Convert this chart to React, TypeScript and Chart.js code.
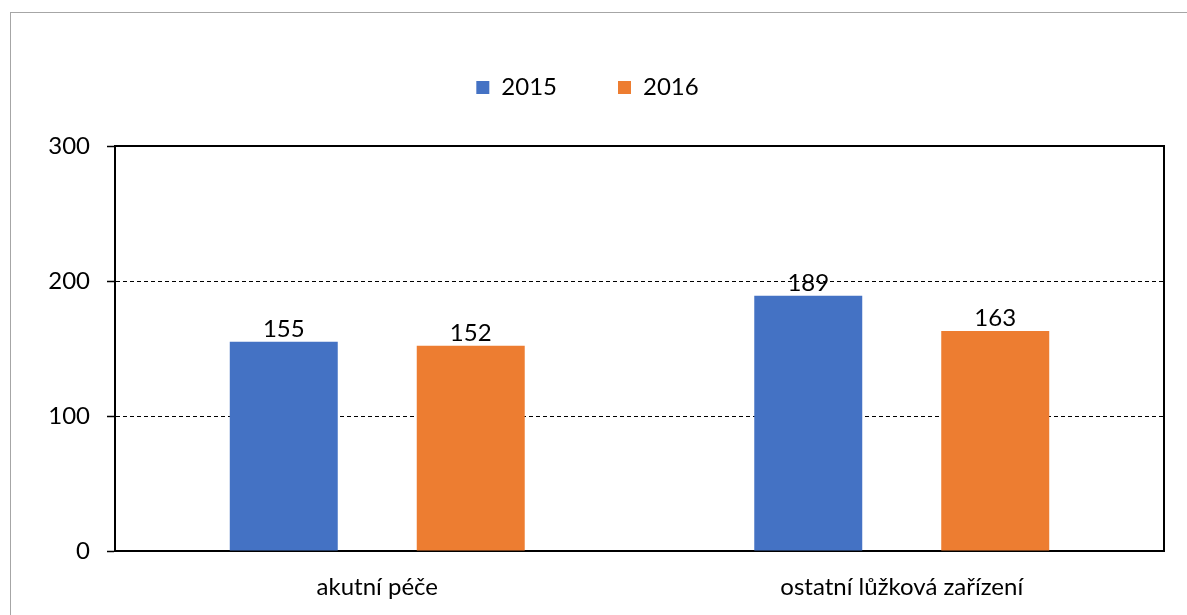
import React, { useEffect, useRef } from 'react';
import { Chart, registerables } from 'chart.js';

Chart.register(...registerables);

const categories = ['akutní péče', 'ostatní lůžková zařízení'];
const seriesLabels = ['2015', '2016'];
const values2015 = [155, 189];
const values2016 = [152, 163];
const yTickValues = [0, 100, 200, 300];

const COLORS = ['#4472C4', '#ED7D31'];
const FONT = 'Lato';
const W = 1187;
const H = 615;

const frameAndLabels = {
  id: 'frameAndLabels',
  afterDatasetsDraw(chart: any) {
    const { ctx, chartArea } = chart;
    ctx.save();
    ctx.font = `24px ${FONT}`;
    ctx.fillStyle = '#000';
    ctx.textAlign = 'center';
    ctx.textBaseline = 'alphabetic';
    chart.data.datasets.forEach((ds: any, i: number) => {
      const meta = chart.getDatasetMeta(i);
      meta.data.forEach((bar: any, j: number) => {
        ctx.fillText(String(ds.data[j]), bar.x, bar.y - 5);
      });
    });
    ctx.restore();
  },
  afterDraw(chart: any) {
    const { ctx, chartArea } = chart;
    ctx.save();
    ctx.strokeStyle = '#000';
    ctx.lineWidth = 2;
    ctx.beginPath();
    ctx.moveTo(chartArea.left, chartArea.top);
    ctx.lineTo(chartArea.right, chartArea.top);
    ctx.lineTo(chartArea.right, chartArea.bottom);
    ctx.stroke();
    ctx.restore();
  },
};

export default function App() {
  const canvasRef = useRef<HTMLCanvasElement | null>(null);

  useEffect(() => {
    if (!canvasRef.current) return;
    const chart = new Chart(canvasRef.current, {
      type: 'bar',
      data: {
        labels: categories,
        datasets: [
          { label: seriesLabels[0], data: values2015, backgroundColor: COLORS[0], borderWidth: 0 },
          { label: seriesLabels[1], data: values2016, backgroundColor: COLORS[1], borderWidth: 0 },
        ],
      },
      options: {
        responsive: false,
        animation: false,
        events: [],
        layout: { padding: { top: 14.5, left: 11, right: 23, bottom: 0 } },
        datasets: {
          bar: { categoryPercentage: 0.713, barPercentage: 0.5775 },
        },
        plugins: {
          tooltip: { enabled: false },
          legend: {
            display: true,
            position: 'top',
            labels: {
              boxWidth: 13,
              boxHeight: 13,
              padding: 61,
              color: '#000',
              font: { family: FONT, size: 24 },
            },
          },
          title: {
            display: true,
            text: '',
            weight: 500,
            position: 'top',
            padding: { top: 0, bottom: 24.5 },
            font: { size: 12, lineHeight: 1 },
          },
        },
        scales: {
          x: {
            grid: { display: false, drawTicks: false, tickLength: 0 },
            border: { display: true, color: '#000', width: 2 },
            ticks: {
              color: '#000',
              padding: 22,
              font: { family: FONT, size: 24 },
              maxRotation: 0,
            },
            afterFit(scale: any) {
              scale.height = 64;
            },
          },
          y: {
            min: yTickValues[0],
            max: yTickValues[yTickValues.length - 1],
            ticks: {
              stepSize: yTickValues[1] - yTickValues[0],
              color: '#000',
              padding: 17,
              font: { family: FONT, size: 24 },
            },
            grid: {
              color: (c: any) =>
                c.tick && c.tick.value > yTickValues[0] && c.tick.value < yTickValues[yTickValues.length - 1]
                  ? '#000'
                  : 'rgba(0,0,0,0)',
              lineWidth: 1,
              tickColor: '#000',
              tickLength: 8,
              tickWidth: 1.5,
            },
            border: { display: true, color: '#000', width: 2, dash: [4, 3] },
            afterFit(scale: any) {
              scale.width = 104;
            },
          },
        },
      },
      plugins: [frameAndLabels],
    } as any);
    return () => chart.destroy();
  }, []);

  return (
    <div
      style={{
        position: 'fixed',
        left: 0,
        top: 0,
        width: W,
        height: H,
        overflow: 'hidden',
        background: '#fff',
      }}
    >
      <div
        style={{
          position: 'absolute',
          left: 10,
          top: 12,
          width: W + 20,
          height: H + 20,
          border: '1px solid #a6a6a6',
          boxSizing: 'border-box',
        }}
      />
      <canvas
        ref={canvasRef}
        width={W}
        height={H}
        style={{ position: 'absolute', left: 0, top: 0, width: W, height: H }}
      />
    </div>
  );
}
